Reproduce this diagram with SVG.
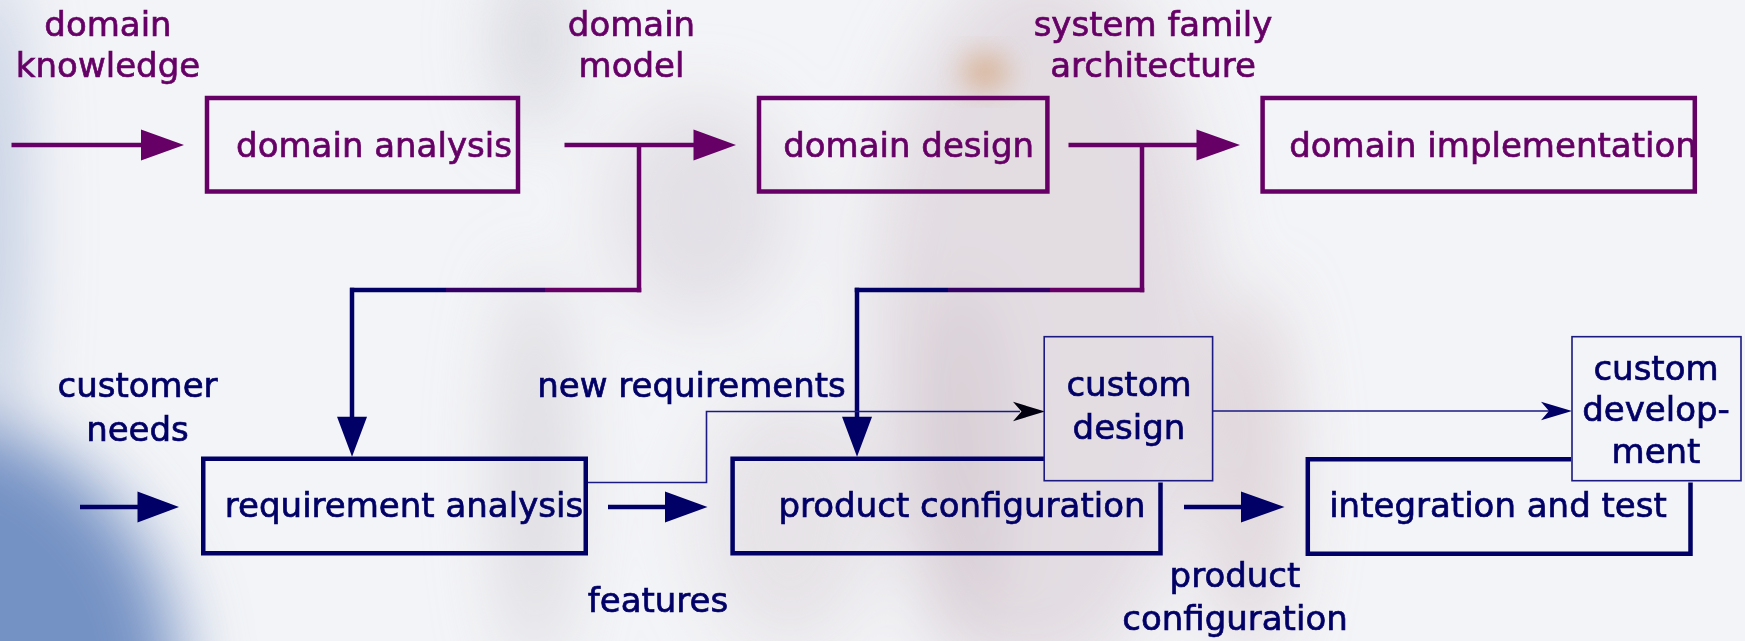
<svg xmlns="http://www.w3.org/2000/svg" width="1745" height="641" viewBox="0 0 1745 641">
  <defs>
    <filter id="haze" x="-50%" y="-50%" width="200%" height="200%">
      <feGaussianBlur stdDeviation="34"/>
    </filter>
    <filter id="hazeSoft" x="-50%" y="-50%" width="200%" height="200%">
      <feGaussianBlur stdDeviation="14"/>
    </filter>
    <style>
      .lbl { font-family: "DejaVu Sans", "Liberation Sans", sans-serif; font-size: 34px; text-anchor: middle; stroke-width: 0.7px; }
      .p { fill: #660066; stroke: #660066; }
      .n { fill: #000066; stroke: #000066; }
      .boxP { fill: none; stroke: #660066; stroke-width: 4.5; }
      .boxN { fill: none; stroke: #000066; stroke-width: 4.5; }
      .boxThin { fill: none; stroke: #1a1a80; stroke-width: 1.6; }
      .lineP { fill: none; stroke: #660066; stroke-width: 4.5; }
      .lineN { fill: none; stroke: #000066; stroke-width: 4.5; }
      .lineM { fill: none; stroke: #330066; stroke-width: 4.5; }
      .thin { fill: none; stroke: #1a1a80; stroke-width: 1.6; }
      .head { stroke: none; }
    </style>
  </defs>

  <!-- soft photographic backdrop -->
  <rect x="0" y="0" width="1745" height="641" fill="#f3f4f7"/>
  <g filter="url(#haze)">
    <ellipse cx="-12" cy="220" rx="30" ry="260" fill="#b9c6de"/>
    <ellipse cx="-70" cy="690" rx="250" ry="270" fill="#7592c4"/>
    <ellipse cx="535" cy="40" rx="35" ry="90" fill="#cfcfd8" opacity="0.8"/>
    <ellipse cx="535" cy="470" rx="35" ry="200" fill="#d6d3da" opacity="0.8"/>
    <ellipse cx="700" cy="210" rx="90" ry="110" fill="#dedbe1" opacity="0.8"/>
    <ellipse cx="1040" cy="320" rx="170" ry="360" fill="#dfd8de" opacity="0.85"/>
    <ellipse cx="960" cy="470" rx="40" ry="190" fill="#d4c9d1" opacity="0.8"/>
    <ellipse cx="1250" cy="470" rx="40" ry="180" fill="#d8cbd0" opacity="0.8"/>
    <ellipse cx="790" cy="520" rx="90" ry="130" fill="#e3dee3" opacity="0.8"/>
  </g>
  <ellipse cx="985" cy="72" rx="24" ry="18" fill="#d4a47c" opacity="0.75" filter="url(#hazeSoft)"/>

  <!-- connectors -->
  <g id="connectors">
    <!-- domain knowledge into domain analysis -->
    <line class="lineP" x1="11.5" y1="145" x2="142" y2="145"/>
    <polygon class="p head" points="141,129.5 184,145 141,160.5"/>
    <!-- domain analysis to domain design -->
    <line class="lineP" x1="564.5" y1="145" x2="694" y2="145"/>
    <polygon class="p head" points="693.5,129.5 736,145 693.5,160.5"/>
    <!-- domain design to domain implementation -->
    <line class="lineP" x1="1068.5" y1="145" x2="1197" y2="145"/>
    <polygon class="p head" points="1196.5,129.5 1240,145 1196.5,160.5"/>

    <!-- domain model down to requirement analysis -->
    <line class="lineP" x1="639" y1="145" x2="639" y2="292.25"/>
    <line class="lineP" x1="641.25" y1="290" x2="545" y2="290"/>
    <line class="lineM" x1="545" y1="290" x2="446" y2="290"/>
    <line class="lineN" x1="446" y1="290" x2="350" y2="290"/>
    <line class="lineN" x1="352" y1="287.75" x2="352" y2="418"/>
    <polygon class="n head" points="337,416.7 352,456.7 367,416.7"/>

    <!-- system family architecture down to product configuration -->
    <line class="lineP" x1="1142" y1="145" x2="1142" y2="292.25"/>
    <line class="lineP" x1="1144.25" y1="290" x2="1050" y2="290"/>
    <line class="lineM" x1="1050" y1="290" x2="948" y2="290"/>
    <line class="lineN" x1="948" y1="290" x2="854.75" y2="290"/>
    <line class="lineN" x1="857" y1="287.75" x2="857" y2="418"/>
    <polygon class="n head" points="842,416.7 857,456.7 872,416.7"/>

    <!-- customer needs into requirement analysis -->
    <line class="lineN" x1="80" y1="507" x2="138.5" y2="507"/>
    <polygon class="n head" points="137.5,491.5 179,507 137.5,522.5"/>
    <!-- features -->
    <line class="lineN" x1="608" y1="507" x2="666" y2="507"/>
    <polygon class="n head" points="665,491.5 707.5,507 665,522.5"/>
    <!-- product configuration to integration -->
    <line class="lineN" x1="1184" y1="507" x2="1242" y2="507"/>
    <polygon class="n head" points="1241,491.5 1284.5,507 1241,522.5"/>

    <!-- new requirements to custom design -->
    <polyline class="thin" points="588,482.5 706.5,482.5 706.5,411.5 1020,411.5"/>
    <path d="M1045,411.5 L1013,401.8 L1021.5,411.5 L1013,421.2 Z" fill="#000010"/>
    <!-- custom design to custom development -->
    <line class="thin" x1="1212.6" y1="411" x2="1550" y2="411"/>
    <path d="M1572,411 L1541,401.8 L1549,411 L1541,420.2 Z" fill="#000066"/>
  </g>

  <!-- top row labels -->
  <g id="label-domain-knowledge">
    <text class="lbl p" x="108" y="36">domain</text>
    <text class="lbl p" x="108" y="76.5">knowledge</text>
  </g>
  <g id="label-domain-model">
    <text class="lbl p" x="631.5" y="36">domain</text>
    <text class="lbl p" x="631.5" y="76.5">model</text>
  </g>
  <g id="label-system-family-architecture">
    <text class="lbl p" x="1153" y="36">system family</text>
    <text class="lbl p" x="1153" y="76.5">architecture</text>
  </g>

  <!-- domain engineering nodes -->
  <g id="domain-analysis">
    <rect class="boxP" x="207" y="98" width="311" height="93.5"/>
    <text class="lbl p" x="374" y="157">domain analysis</text>
  </g>
  <g id="domain-design">
    <rect class="boxP" x="759" y="98" width="288.4" height="93.5"/>
    <text class="lbl p" x="908.7" y="157">domain design</text>
  </g>
  <g id="domain-implementation">
    <rect class="boxP" x="1262.6" y="98" width="432.2" height="93.5"/>
    <text class="lbl p" x="1493" y="157">domain implementation</text>
  </g>

  <!-- application engineering labels -->
  <g id="label-customer-needs">
    <text class="lbl n" x="137.5" y="397">customer</text>
    <text class="lbl n" x="137.5" y="440.5">needs</text>
  </g>
  <g id="label-new-requirements">
    <text class="lbl n" x="691.5" y="397">new requirements</text>
  </g>
  <g id="label-features">
    <text class="lbl n" x="658" y="612">features</text>
  </g>
  <g id="label-product-configuration">
    <text class="lbl n" x="1235" y="587">product</text>
    <text class="lbl n" x="1235" y="630">configuration</text>
  </g>

  <!-- application engineering nodes -->
  <g id="requirement-analysis">
    <rect class="boxN" x="203.25" y="458.75" width="382.5" height="94.5"/>
    <text class="lbl n" x="404" y="517">requirement analysis</text>
  </g>
  <g id="product-configuration">
    <path class="boxN" d="M1044,458.75 H732.6 V553.25 H1160.5 V482.5"/>
    <text class="lbl n" x="962" y="517">product configuration</text>
  </g>
  <g id="integration-and-test">
    <path class="boxN" d="M1571,459.25 H1307.8 V553.75 H1690.5 V482.5"/>
    <text class="lbl n" x="1498" y="517">integration and test</text>
  </g>
  <g id="custom-design">
    <rect class="boxThin" x="1044.2" y="336.7" width="168.4" height="144"/>
    <text class="lbl n" x="1129" y="396">custom</text>
    <text class="lbl n" x="1129" y="438.5">design</text>
  </g>
  <g id="custom-development">
    <rect class="boxThin" x="1572" y="336.7" width="169" height="144"/>
    <text class="lbl n" x="1656" y="379.5">custom</text>
    <text class="lbl n" x="1656" y="421">develop-</text>
    <text class="lbl n" x="1656" y="463">ment</text>
  </g>
</svg>
